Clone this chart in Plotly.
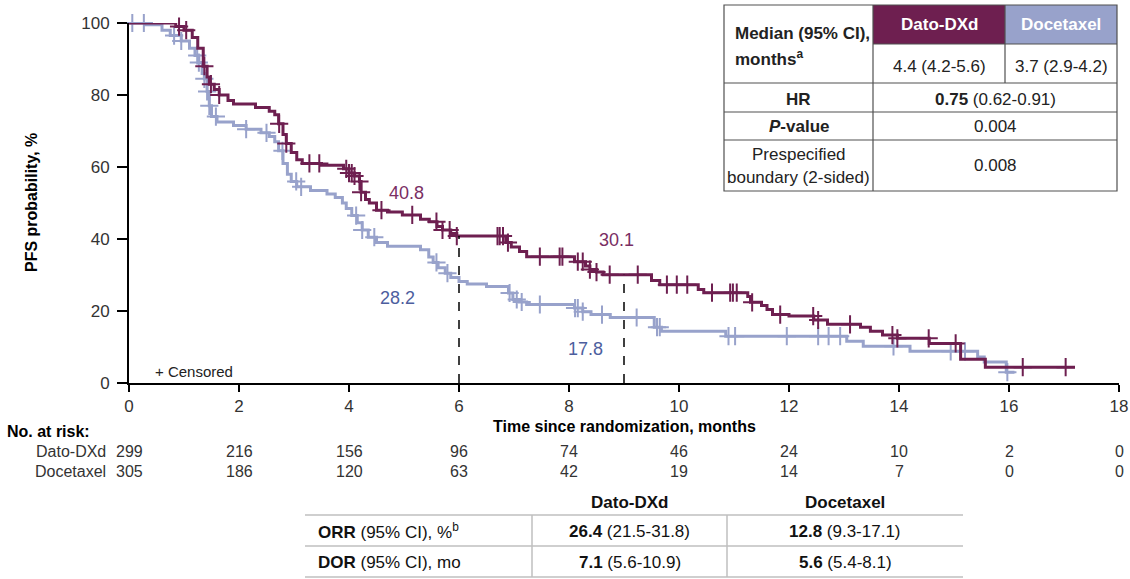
import numpy as np
import plotly.graph_objects as go

# ---------------- data ----------------
dato_t = [0, 0.85, 1.0, 1.15, 1.25, 1.35, 1.42, 1.46, 1.55, 1.64, 1.8, 1.9, 2.3, 2.55, 2.65, 2.72, 2.8, 2.86,
          2.95, 3.05, 3.15, 3.5, 3.9, 4.0, 4.1, 4.19, 4.22, 4.3, 4.37, 4.5, 4.7, 4.97, 5.3, 5.46, 5.6, 5.7,
          5.85, 5.96, 6.85, 6.95, 7.1, 7.23, 8.1, 8.3, 8.38, 8.5, 8.62, 9.5, 9.65, 10.35, 10.45, 11.25, 11.3,
          11.5, 11.6, 11.7, 12.0, 12.45, 12.7, 13.3, 13.48, 13.7, 13.97, 14.55, 15.12, 15.57]
dato_s = [100, 99, 98, 96, 93, 88, 85, 83, 81.5, 80, 78.5, 77.5, 76.5, 75.5, 74.5, 72, 69, 66.5,
          64, 62, 61, 60.5, 59.5, 58.3, 57.5, 56, 53, 51, 50, 48, 47.5, 46.7, 45.5, 44.8, 43.5, 42.5,
          41.5, 40.8, 39, 37.8, 36.5, 35.1, 33.7, 32.5, 31.5, 30.8, 30.1, 28.5, 27.3, 26, 25.1, 24, 22.4,
          21.5, 20.4, 19, 18.6, 17.5, 16.3, 15.5, 14.4, 13.3, 12.4, 11.0, 6.6, 4.4]
dato_end = 17.2
dato_cens = [0.91, 1.04, 1.37, 1.49, 1.64, 2.73, 2.86, 3.28, 3.46, 3.95, 4.0, 4.05, 4.1, 4.19, 4.22, 4.59,
             5.15, 5.59, 5.7, 5.83, 5.96, 6.7, 6.74, 6.8, 6.89, 7.47, 7.83, 7.88, 8.16, 8.25, 8.38, 8.5,
             8.74, 9.25, 9.78, 9.96, 10.15, 10.6, 10.93, 10.98, 11.05, 11.33, 11.84, 12.44, 12.53, 13.11,
             13.88, 13.97, 14.54, 15.03, 16.25, 17.03]

doce_t = [0, 0.3, 0.6, 0.75, 0.95, 1.1, 1.2, 1.27, 1.33, 1.37, 1.42, 1.46, 1.5, 1.6, 1.9, 2.13, 2.4, 2.55,
          2.65, 2.72, 2.8, 2.88, 2.95, 3.05, 3.3, 3.6, 3.75, 3.88, 3.95, 4.05, 4.15, 4.24, 4.35, 4.5, 4.7,
          5.3, 5.45, 5.53, 5.62, 5.75, 5.85, 6.0, 6.15, 6.5, 6.9, 6.98, 7.1, 7.23, 8.1, 8.25, 8.4, 8.75,
          9.55, 9.68, 10.85, 13.05, 13.35, 14.2, 15.43, 15.55, 15.95]
doce_s = [100, 99.5, 98, 96.5, 95, 93, 91, 89, 86, 84.5, 81, 77, 74, 72.5, 71.5, 70.5, 69.5, 68.5,
          67, 64.5, 61, 58, 56, 54.5, 53.5, 52.5, 51.5, 50, 48.5, 46.5, 44.5, 42.5, 40.5, 39, 38,
          37, 35, 33.5, 32, 30.5, 29.3, 28.2, 27.5, 26.8, 25, 23.2, 22.5, 21.8, 20.8, 19.8, 19, 18.2,
          15.5, 14.4, 13, 11.6, 10.2, 8.8, 7.2, 5.8, 3.0]
doce_end = 16.1
doce_cens = [0.06, 0.27, 0.82, 0.95, 1.24, 1.27, 1.37, 1.42, 1.46, 1.58, 2.13, 2.5, 2.79, 3.04, 3.13, 4.13,
             4.24, 4.46, 5.59, 5.79, 6.92, 7.05, 7.14, 7.47, 8.11, 8.16, 8.25, 8.6, 9.23, 9.6, 9.65, 10.9,
             11.02, 11.96, 12.53, 12.72, 12.93, 13.9, 14.94, 15.2, 15.97]

landmark_t = [6, 9]
dato_landmark = [40.8, 30.1]
doce_landmark = [28.2, 17.8]

risk_times = [0, 2, 4, 6, 8, 10, 12, 14, 16, 18]
dato_risk = [299, 216, 156, 96, 74, 46, 24, 10, 2, 0]
doce_risk = [305, 186, 120, 63, 42, 19, 14, 7, 0, 0]

x_ticks = [0, 2, 4, 6, 8, 10, 12, 14, 16, 18]
y_ticks = [0, 20, 40, 60, 80, 100]

# ---------------- style ----------------
PURPLE = "#6E1F50"
BLUE = "#98A2CB"
PURPLE_TXT = "#7A2E63"
BLUE_TXT = "#4D5E9E"
SANS = "Liberation Sans, Arial, sans-serif"
W, H = 1130, 579
L, R, T, B = 129, 1119, 23, 383   # plot area in pixels


def px(x):
    return (x - L) / (R - L)


def py(y):
    return (B - y) / (B - T)


def step_val(ts, ss, c):
    i = int(np.searchsorted(np.array(ts), c, side="right")) - 1
    return ss[max(i, 0)]


fig = go.Figure()

for ts, ss, end, cens, col, name in [
    (doce_t, doce_s, doce_end, doce_cens, BLUE, "Docetaxel"),
    (dato_t, dato_s, dato_end, dato_cens, PURPLE, "Dato-DXd"),
]:
    fig.add_trace(go.Scatter(x=list(ts) + [end], y=list(ss) + [ss[-1]], mode="lines",
                             line=dict(color=col, width=3, shape="hv"), name=name,
                             showlegend=False, hoverinfo="skip", cliponaxis=False))
    fig.add_trace(go.Scatter(x=cens, y=[step_val(ts, ss, c) for c in cens], mode="markers",
                             marker=dict(symbol="cross-thin", size=13, line=dict(color=col, width=2)),
                             showlegend=False, hoverinfo="skip", cliponaxis=False))

shapes = []
for t, v in zip(landmark_t, dato_landmark):
    shapes.append(dict(type="line", xref="x", yref="y", x0=t, x1=t, y0=0, y1=v,
                       line=dict(color="black", width=1.5, dash="dash")))

annotations = []


def txt(x, y, text, color="#222", anchor="center", size=17, rot=0):
    annotations.append(dict(xref="paper", yref="paper", x=px(x), y=py(y), text=text, showarrow=False,
                            xanchor=anchor, yanchor="middle", textangle=rot,
                            font=dict(family=SANS, size=size, color=color)))


# landmark labels
for (xp, yp), v in zip([(406, 193), (616, 240)], dato_landmark):
    txt(xp, yp, f"{v}", color=PURPLE_TXT, size=18)
for (xp, yp), v in zip([(397, 298), (585, 349)], doce_landmark):
    txt(xp, yp, f"{v}", color=BLUE_TXT, size=18)

txt(153, 371, "+ Censored", color="#222", anchor="left", size=15)

# axis titles
txt(624, 426, "<b>Time since randomization, months</b>", color="black", size=16)
txt(31, 203, "<b>PFS probability, %</b>", color="black", size=16, rot=-90)

# risk table
txt(5, 431, "<b>No. at risk:</b>", color="black", anchor="left", size=16)
for lab, yy, vals in [("Dato-DXd", 451, dato_risk), ("Docetaxel", 471, doce_risk)]:
    txt(108, yy, lab, color="#333", anchor="right", size=16)
    for t, v in zip(risk_times, vals):
        annotations.append(dict(xref="x", yref="paper", x=t, y=py(yy), text=str(v), showarrow=False,
                                xanchor="center", yanchor="middle",
                                font=dict(family=SANS, size=16, color="#333")))

# top-right table
tl, c1, c2, tr = 724, 873, 1005, 1117
r0, r1, r2, r3, r4, r5 = 5, 44, 83, 112, 140, 191
GRID = "#505050"
shapes += [
    dict(type="rect", xref="paper", yref="paper", x0=px(c1), x1=px(c2), y0=py(r0), y1=py(r1),
         fillcolor=PURPLE, line=dict(width=0), layer="below"),
    dict(type="rect", xref="paper", yref="paper", x0=px(c2), x1=px(tr), y0=py(r0), y1=py(r1),
         fillcolor=BLUE, line=dict(width=0), layer="below"),
    dict(type="rect", xref="paper", yref="paper", x0=px(tl), x1=px(tr), y0=py(r0), y1=py(r5),
         line=dict(color=GRID, width=1.2)),
    dict(type="line", xref="paper", yref="paper", x0=px(c1), x1=px(c1), y0=py(r0), y1=py(r5),
         line=dict(color=GRID, width=1.2)),
    dict(type="line", xref="paper", yref="paper", x0=px(c2), x1=px(c2), y0=py(r0), y1=py(r2),
         line=dict(color=GRID, width=1.2)),
    dict(type="line", xref="paper", yref="paper", x0=px(c1), x1=px(tr), y0=py(r1), y1=py(r1),
         line=dict(color=GRID, width=1.2)),
]
for rr in [r2, r3, r4]:
    shapes.append(dict(type="line", xref="paper", yref="paper", x0=px(tl), x1=px(tr), y0=py(rr), y1=py(rr),
                       line=dict(color=GRID, width=1.2)))

txt(733, 33, "<b>Median (95% CI),</b>", anchor="left")
txt(733, 58, "<b>months<sup>a</sup></b>", anchor="left")
txt((c1 + c2) / 2, 25, "<b>Dato-DXd</b>", color="white")
txt((c2 + tr) / 2, 25, "<b>Docetaxel</b>", color="white")
txt((c1 + c2) / 2, 66, "4.4 (4.2-5.6)")
txt((c2 + tr) / 2, 66, "3.7 (2.9-4.2)")
txt((tl + c1) / 2, 99, "<b>HR</b>")
txt((c1 + tr) / 2, 99, "<b>0.75</b> (0.62-0.91)")
txt((tl + c1) / 2, 127, "<b><i>P</i>-value</b>")
txt((c1 + tr) / 2, 127, "0.004")
txt((tl + c1) / 2, 154, "Prespecified")
txt((tl + c1) / 2, 177, "boundary (2-sided)")
txt((c1 + tr) / 2, 165, "0.008")

# bottom table
bl, bc1, bc2, br = 305, 532, 727, 963
LG = "#BFBFBF"
for yy in [515, 546, 577]:
    shapes.append(dict(type="line", xref="paper", yref="paper", x0=px(bl), x1=px(br), y0=py(yy), y1=py(yy),
                       line=dict(color=LG, width=1.5)))
for xx in [bc1, bc2]:
    shapes.append(dict(type="line", xref="paper", yref="paper", x0=px(xx), x1=px(xx), y0=py(515), y1=py(577),
                       line=dict(color=LG, width=1.5)))
txt((bc1 + bc2) / 2, 502, "<b>Dato-DXd</b>", color="#111")
txt((bc2 + br) / 2, 502, "<b>Docetaxel</b>", color="#111")
txt(316, 531, "<b>ORR</b> (95% CI), %<sup>b</sup>", anchor="left", color="#111")
txt(316, 562, "<b>DOR</b> (95% CI), mo", anchor="left", color="#111")
txt((bc1 + bc2) / 2, 531, "<b>26.4</b> (21.5-31.8)", color="#111")
txt((bc2 + br) / 2, 531, "<b>12.8</b> (9.3-17.1)", color="#111")
txt((bc1 + bc2) / 2, 562, "<b>7.1</b> (5.6-10.9)", color="#111")
txt((bc2 + br) / 2, 562, "<b>5.6</b> (5.4-8.1)", color="#111")

fig.update_layout(
    width=W, height=H,
    margin=dict(l=L, r=W - R, t=T, b=H - B, autoexpand=False),
    paper_bgcolor="white", plot_bgcolor="white",
    shapes=shapes, annotations=annotations,
    font=dict(family=SANS, size=16, color="#333"),
    xaxis=dict(range=[0, 18], tickvals=x_ticks, showgrid=False, zeroline=False, automargin=False,
               showline=True, linecolor="black", linewidth=2, ticks="outside", ticklen=7,
               tickwidth=2, tickcolor="black", tickfont=dict(family=SANS, size=17, color="#333")),
    yaxis=dict(range=[0, 100], tickvals=y_ticks, showgrid=False, zeroline=False, automargin=False,
               showline=True, linecolor="black", linewidth=2, ticks="outside", ticklen=10,
               tickwidth=2, tickcolor="black", ticklabelstandoff=4,
               tickfont=dict(family=SANS, size=17, color="#333")),
)

fig.write_html("out.html", config={"displayModeBar": False},
               post_script="document.body.style.margin='0';document.body.style.padding='0';")
